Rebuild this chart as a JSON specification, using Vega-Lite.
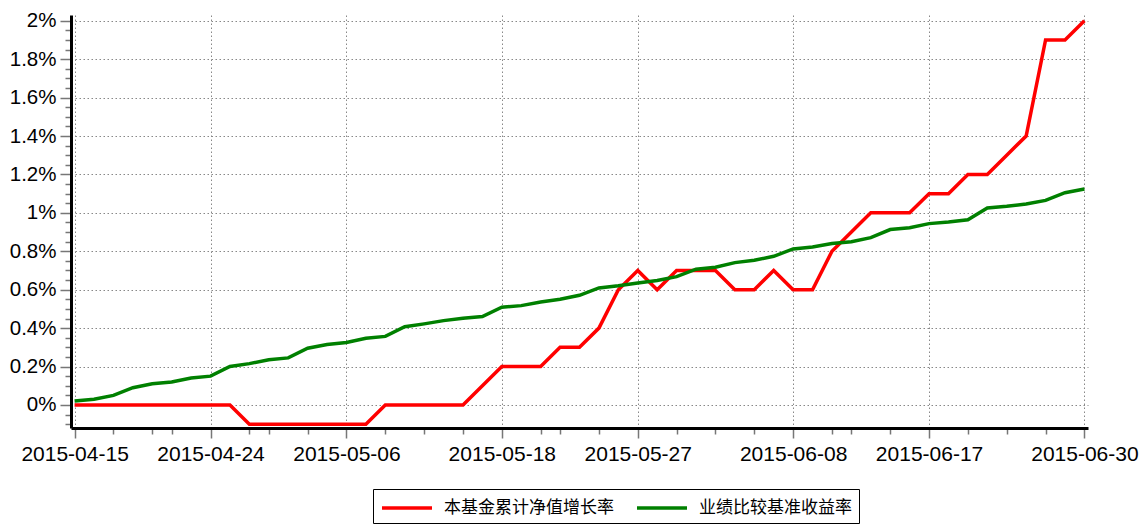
{
  "$schema": "https://vega.github.io/schema/vega-lite/v6.json",
  "width": 1017,
  "height": 413,
  "autosize": "none",
  "padding": {"left": 71, "top": 15, "right": 56, "bottom": 99},
  "background": "white",
  "config": {"view": {"stroke": null}},
  "data": {"values": [
    {"date": "2015-04-15", "series": "本基金累计净值增长率", "value": 0},
    {"date": "2015-04-16", "series": "本基金累计净值增长率", "value": 0},
    {"date": "2015-04-17", "series": "本基金累计净值增长率", "value": 0},
    {"date": "2015-04-20", "series": "本基金累计净值增长率", "value": 0},
    {"date": "2015-04-21", "series": "本基金累计净值增长率", "value": 0},
    {"date": "2015-04-22", "series": "本基金累计净值增长率", "value": 0},
    {"date": "2015-04-23", "series": "本基金累计净值增长率", "value": 0},
    {"date": "2015-04-24", "series": "本基金累计净值增长率", "value": 0},
    {"date": "2015-04-27", "series": "本基金累计净值增长率", "value": 0},
    {"date": "2015-04-28", "series": "本基金累计净值增长率", "value": -0.1},
    {"date": "2015-04-29", "series": "本基金累计净值增长率", "value": -0.1},
    {"date": "2015-04-30", "series": "本基金累计净值增长率", "value": -0.1},
    {"date": "2015-05-04", "series": "本基金累计净值增长率", "value": -0.1},
    {"date": "2015-05-05", "series": "本基金累计净值增长率", "value": -0.1},
    {"date": "2015-05-06", "series": "本基金累计净值增长率", "value": -0.1},
    {"date": "2015-05-07", "series": "本基金累计净值增长率", "value": -0.1},
    {"date": "2015-05-08", "series": "本基金累计净值增长率", "value": 0},
    {"date": "2015-05-11", "series": "本基金累计净值增长率", "value": 0},
    {"date": "2015-05-12", "series": "本基金累计净值增长率", "value": 0},
    {"date": "2015-05-13", "series": "本基金累计净值增长率", "value": 0},
    {"date": "2015-05-14", "series": "本基金累计净值增长率", "value": 0},
    {"date": "2015-05-15", "series": "本基金累计净值增长率", "value": 0.1},
    {"date": "2015-05-18", "series": "本基金累计净值增长率", "value": 0.2},
    {"date": "2015-05-19", "series": "本基金累计净值增长率", "value": 0.2},
    {"date": "2015-05-20", "series": "本基金累计净值增长率", "value": 0.2},
    {"date": "2015-05-21", "series": "本基金累计净值增长率", "value": 0.3},
    {"date": "2015-05-22", "series": "本基金累计净值增长率", "value": 0.3},
    {"date": "2015-05-25", "series": "本基金累计净值增长率", "value": 0.4},
    {"date": "2015-05-26", "series": "本基金累计净值增长率", "value": 0.6},
    {"date": "2015-05-27", "series": "本基金累计净值增长率", "value": 0.7},
    {"date": "2015-05-28", "series": "本基金累计净值增长率", "value": 0.6},
    {"date": "2015-05-29", "series": "本基金累计净值增长率", "value": 0.7},
    {"date": "2015-06-01", "series": "本基金累计净值增长率", "value": 0.7},
    {"date": "2015-06-02", "series": "本基金累计净值增长率", "value": 0.7},
    {"date": "2015-06-03", "series": "本基金累计净值增长率", "value": 0.6},
    {"date": "2015-06-04", "series": "本基金累计净值增长率", "value": 0.6},
    {"date": "2015-06-05", "series": "本基金累计净值增长率", "value": 0.7},
    {"date": "2015-06-08", "series": "本基金累计净值增长率", "value": 0.6},
    {"date": "2015-06-09", "series": "本基金累计净值增长率", "value": 0.6},
    {"date": "2015-06-10", "series": "本基金累计净值增长率", "value": 0.8},
    {"date": "2015-06-11", "series": "本基金累计净值增长率", "value": 0.9},
    {"date": "2015-06-12", "series": "本基金累计净值增长率", "value": 1.0},
    {"date": "2015-06-15", "series": "本基金累计净值增长率", "value": 1.0},
    {"date": "2015-06-16", "series": "本基金累计净值增长率", "value": 1.0},
    {"date": "2015-06-17", "series": "本基金累计净值增长率", "value": 1.1},
    {"date": "2015-06-18", "series": "本基金累计净值增长率", "value": 1.1},
    {"date": "2015-06-19", "series": "本基金累计净值增长率", "value": 1.2},
    {"date": "2015-06-23", "series": "本基金累计净值增长率", "value": 1.2},
    {"date": "2015-06-24", "series": "本基金累计净值增长率", "value": 1.3},
    {"date": "2015-06-25", "series": "本基金累计净值增长率", "value": 1.4},
    {"date": "2015-06-26", "series": "本基金累计净值增长率", "value": 1.9},
    {"date": "2015-06-29", "series": "本基金累计净值增长率", "value": 1.9},
    {"date": "2015-06-30", "series": "本基金累计净值增长率", "value": 2.0},
    {"date": "2015-04-15", "series": "业绩比较基准收益率", "value": 0.02},
    {"date": "2015-04-16", "series": "业绩比较基准收益率", "value": 0.03},
    {"date": "2015-04-17", "series": "业绩比较基准收益率", "value": 0.05},
    {"date": "2015-04-20", "series": "业绩比较基准收益率", "value": 0.09},
    {"date": "2015-04-21", "series": "业绩比较基准收益率", "value": 0.11},
    {"date": "2015-04-22", "series": "业绩比较基准收益率", "value": 0.12},
    {"date": "2015-04-23", "series": "业绩比较基准收益率", "value": 0.14},
    {"date": "2015-04-24", "series": "业绩比较基准收益率", "value": 0.15},
    {"date": "2015-04-27", "series": "业绩比较基准收益率", "value": 0.2},
    {"date": "2015-04-28", "series": "业绩比较基准收益率", "value": 0.215},
    {"date": "2015-04-29", "series": "业绩比较基准收益率", "value": 0.235},
    {"date": "2015-04-30", "series": "业绩比较基准收益率", "value": 0.245},
    {"date": "2015-05-04", "series": "业绩比较基准收益率", "value": 0.295},
    {"date": "2015-05-05", "series": "业绩比较基准收益率", "value": 0.315},
    {"date": "2015-05-06", "series": "业绩比较基准收益率", "value": 0.325},
    {"date": "2015-05-07", "series": "业绩比较基准收益率", "value": 0.347},
    {"date": "2015-05-08", "series": "业绩比较基准收益率", "value": 0.357},
    {"date": "2015-05-11", "series": "业绩比较基准收益率", "value": 0.407},
    {"date": "2015-05-12", "series": "业绩比较基准收益率", "value": 0.422},
    {"date": "2015-05-13", "series": "业绩比较基准收益率", "value": 0.439},
    {"date": "2015-05-14", "series": "业绩比较基准收益率", "value": 0.451},
    {"date": "2015-05-15", "series": "业绩比较基准收益率", "value": 0.46},
    {"date": "2015-05-18", "series": "业绩比较基准收益率", "value": 0.509},
    {"date": "2015-05-19", "series": "业绩比较基准收益率", "value": 0.517},
    {"date": "2015-05-20", "series": "业绩比较基准收益率", "value": 0.536},
    {"date": "2015-05-21", "series": "业绩比较基准收益率", "value": 0.55},
    {"date": "2015-05-22", "series": "业绩比较基准收益率", "value": 0.571},
    {"date": "2015-05-25", "series": "业绩比较基准收益率", "value": 0.609},
    {"date": "2015-05-26", "series": "业绩比较基准收益率", "value": 0.62},
    {"date": "2015-05-27", "series": "业绩比较基准收益率", "value": 0.635},
    {"date": "2015-05-28", "series": "业绩比较基准收益率", "value": 0.648},
    {"date": "2015-05-29", "series": "业绩比较基准收益率", "value": 0.668},
    {"date": "2015-06-01", "series": "业绩比较基准收益率", "value": 0.707},
    {"date": "2015-06-02", "series": "业绩比较基准收益率", "value": 0.717},
    {"date": "2015-06-03", "series": "业绩比较基准收益率", "value": 0.741},
    {"date": "2015-06-04", "series": "业绩比较基准收益率", "value": 0.753},
    {"date": "2015-06-05", "series": "业绩比较基准收益率", "value": 0.774},
    {"date": "2015-06-08", "series": "业绩比较基准收益率", "value": 0.812},
    {"date": "2015-06-09", "series": "业绩比较基准收益率", "value": 0.822},
    {"date": "2015-06-10", "series": "业绩比较基准收益率", "value": 0.84},
    {"date": "2015-06-11", "series": "业绩比较基准收益率", "value": 0.85},
    {"date": "2015-06-12", "series": "业绩比较基准收益率", "value": 0.871},
    {"date": "2015-06-15", "series": "业绩比较基准收益率", "value": 0.913},
    {"date": "2015-06-16", "series": "业绩比较基准收益率", "value": 0.923},
    {"date": "2015-06-17", "series": "业绩比较基准收益率", "value": 0.944},
    {"date": "2015-06-18", "series": "业绩比较基准收益率", "value": 0.952},
    {"date": "2015-06-19", "series": "业绩比较基准收益率", "value": 0.964},
    {"date": "2015-06-23", "series": "业绩比较基准收益率", "value": 1.025},
    {"date": "2015-06-24", "series": "业绩比较基准收益率", "value": 1.034},
    {"date": "2015-06-25", "series": "业绩比较基准收益率", "value": 1.046},
    {"date": "2015-06-26", "series": "业绩比较基准收益率", "value": 1.065},
    {"date": "2015-06-29", "series": "业绩比较基准收益率", "value": 1.105},
    {"date": "2015-06-30", "series": "业绩比较基准收益率", "value": 1.124}
  ]},
  "layer": [
    {
      "mark": {"type": "line", "opacity": 0},
      "encoding": {
        "x": {
          "field": "date", "type": "ordinal",
          "scale": {"type": "point", "padding": 0.185},
          "axis": {
            "orient": "bottom", "title": null, "labels": false, "domain": false, "grid": false,
            "values": ["2015-04-17", "2015-04-21", "2015-04-22", "2015-04-28", "2015-04-29", "2015-05-04", "2015-05-08", "2015-05-12", "2015-05-14", "2015-05-20", "2015-05-21", "2015-05-25", "2015-05-29", "2015-06-02", "2015-06-04", "2015-06-10", "2015-06-11", "2015-06-15", "2015-06-19", "2015-06-24", "2015-06-26"],
            "tickSize": 6, "tickColor": "#777777", "tickWidth": 1.5
          }
        },
        "y": {
          "field": "value", "type": "quantitative",
          "scale": {"domain": [-0.12, 2.03], "nice": false, "zero": false},
          "axis": {
            "orient": "left", "title": null, "labels": false, "domain": false, "grid": false,
            "values": [-0.1, -0.05, 0.05, 0.1, 0.15, 0.25, 0.3, 0.35, 0.45, 0.5, 0.55, 0.65, 0.7, 0.75, 0.85, 0.9, 0.95, 1.05, 1.1, 1.15, 1.25, 1.3, 1.35, 1.45, 1.5, 1.55, 1.65, 1.7, 1.75, 1.85, 1.9, 1.95],
            "tickSize": 6, "tickColor": "#777777", "tickWidth": 1.5
          }
        },
        "detail": {"field": "series"}
      }
    },
    {
      "transform": [{"filter": "datum.series === '本基金累计净值增长率'"}],
      "mark": {"type": "line", "strokeWidth": 3.5},
      "encoding": {
        "x": {
          "field": "date", "type": "ordinal",
          "axis": {
            "orient": "bottom", "title": null,
            "values": ["2015-04-15", "2015-04-24", "2015-05-06", "2015-05-18", "2015-05-27", "2015-06-08", "2015-06-17", "2015-06-30"],
            "labelAngle": 0, "labelFont": "Liberation Sans", "labelFontSize": 21, "labelColor": "#000000",
            "labelPadding": 5, "labelOverlap": false, "labelFlush": false,
            "tickSize": 10, "tickColor": "#777777", "tickWidth": 1.5,
            "domainColor": "#000000", "domainWidth": 3,
            "grid": true, "gridColor": "#888888", "gridDash": [1.5, 2.5], "gridWidth": 1
          }
        },
        "y": {
          "field": "value", "type": "quantitative",
          "axis": {
            "orient": "left", "title": null,
            "values": [0, 0.2, 0.4, 0.6, 0.8, 1, 1.2, 1.4, 1.6, 1.8, 2],
            "labelExpr": "format(datum.value, '.1~f') + '%'",
            "labelFont": "Liberation Sans", "labelFontSize": 20.5, "labelColor": "#000000", "labelPadding": 4,
            "tickSize": 11, "tickColor": "#777777", "tickWidth": 1.5,
            "domainColor": "#000000", "domainWidth": 3,
            "grid": true, "gridColor": "#888888", "gridDash": [1.5, 2.5], "gridWidth": 1
          }
        },
        "color": {
          "field": "series", "type": "nominal",
          "scale": {"domain": ["本基金累计净值增长率", "业绩比较基准收益率"], "range": ["#ff0000", "#008000"]},
          "legend": {
            "title": null, "orient": "none", "legendX": 302, "legendY": 474, "direction": "horizontal",
            "symbolType": "M-1,0L4,0", "symbolSize": 400, "symbolStrokeWidth": 3.5,
            "labelFont": "Noto Sans CJK SC", "labelFontSize": 17, "labelColor": "#000000", "labelLimit": 400,
            "labelOffset": 40, "columnPadding": 16, "padding": 7,
            "strokeColor": "#000000", "fillColor": "#ffffff"
          }
        }
      }
    },
    {
      "transform": [{"filter": "datum.series === '业绩比较基准收益率'"}],
      "mark": {"type": "line", "strokeWidth": 3.5},
      "encoding": {
        "x": {"field": "date", "type": "ordinal", "axis": null},
        "y": {"field": "value", "type": "quantitative", "axis": null},
        "color": {"field": "series", "type": "nominal"}
      }
    }
  ],
  "resolve": {"axis": {"x": "independent", "y": "independent"}}
}
